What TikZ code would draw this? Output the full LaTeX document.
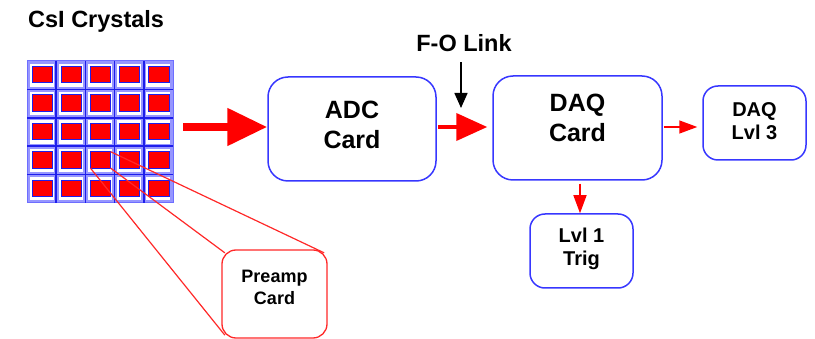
\documentclass[tikz,border=0pt]{standalone}
\usepackage{fontspec}
\setmainfont{Liberation Sans}
\usetikzlibrary{arrows.meta,calc}
\definecolor{bbox}{RGB}{55,55,255}
\definecolor{lblue}{RGB}{150,150,255}
\definecolor{dblue}{RGB}{30,30,235}
\definecolor{rd}{RGB}{255,0,0}
\definecolor{rline}{RGB}{255,40,40}
\definecolor{gridedge}{RGB}{110,110,255}
\begin{document}
\begin{tikzpicture}[x=1pt,y=-1pt,
  bigcard/.style={draw=bbox, line width=1.5pt, rounded corners=20pt, inner sep=0pt},
  smallcard/.style={draw=bbox, line width=1.5pt, rounded corners=15pt, inner sep=0pt, minimum width=103pt, minimum height=74pt},
  precard/.style={draw=rline, line width=1.3pt, rounded corners=14pt, inner sep=0pt, minimum width=105pt, minimum height=88pt},
  bigtext/.style={inner sep=0pt, align=center, font=\bfseries\fontsize{25}{30}\selectfont},
  smalltext/.style={inner sep=0pt, align=center, font=\bfseries\fontsize{20}{23}\selectfont},
  pretext/.style={inner sep=0pt, align=center, font=\bfseries\fontsize{18}{22}\selectfont},
  redcell/.style={fill=rd, draw=dblue, line width=0.8pt},
  feed/.style={draw=rline, line width=1.2pt},
  bigarrow/.style={draw=rd, line width=8pt, -{Triangle[length=40pt,width=36pt]}},
  midarrow/.style={draw=rd, line width=4pt, -{Triangle[length=31pt,width=27pt]}},
  thinarrow/.style={draw=rd, line width=1.5pt, -{Triangle[length=18pt,width=13pt]}},
  blkarrow/.style={draw=black, line width=1.5pt, -{Triangle[length=15pt,width=13pt]}}
]
\useasboundingbox (0,0) rectangle (815,339);

% title
\node[anchor=base west, inner sep=0pt, font=\bfseries\fontsize{23.5}{28}\selectfont] (title) at (28,28) {CsI Crystals};

% crystal grid
\node[minimum width=146pt, minimum height=142pt, inner sep=0pt, outer sep=0pt, fill=lblue, draw=gridedge, line width=1pt] (grid) at (100,132) {};
\foreach \i in {1,...,4} {
  \draw[dblue, line width=1.5pt] (27+\i*29.2,61) -- (27+\i*29.2,203);
  \draw[dblue, line width=1.5pt] (27,61+\i*28.4) -- (173,61+\i*28.4);
}
\foreach \i in {0,...,4} {
  \foreach \j in {0,...,4} {
    \fill[white] (27+\i*29.2+2.6,61+\j*28.4+2.6) rectangle (27+\i*29.2+26.6,61+\j*28.4+25.8);
    \draw[redcell] (27+\i*29.2+5,61+\j*28.4+5.5) rectangle (27+\i*29.2+25.2,61+\j*28.4+21.9);
  }
}
\node[minimum width=20.2pt, minimum height=16.4pt, inner sep=0pt, outer sep=0pt] (src) at (100.5,159.9) {};

% preamp card
\node[precard] (pre) at (274.5,294) {};
\node[pretext] (pret) at (274.5,287.5) {Preamp\\Card};
\draw[feed] (src.north east) -- ($(pre.north east)+(-3.5,3.5)$);
\draw[feed] (src.south east) -- ($(pre.north west)+(3.5,3.5)$);
\draw[feed] (src.south west) -- ($(pre.south west)+(3.5,-3.5)$);

% ADC card
\node[bigcard, minimum width=168pt, minimum height=104pt] (adc) at (352,129) {};
\node[bigtext] (adct) at (352,125) {ADC\\Card};

% DAQ card
\node[bigcard, minimum width=169pt, minimum height=104pt] (daq) at (577.5,128) {};
\node[bigtext] (daqt) at (577.5,118) {DAQ\\Card};

% DAQ Lvl 3
\node[smallcard] (lvl3) at (754.5,123) {};
\node[smalltext] (lvl3t) at (754.5,121.5) {DAQ\\Lvl 3};

% Lvl 1 Trig
\node[smallcard] (lvl1) at (581.5,251) {};
\node[smalltext] (lvl1t) at (581.5,249) {Lvl 1\\Trig};

% F-O link
\node[anchor=base, inner sep=0pt, font=\bfseries\fontsize{23.5}{28}\selectfont] (fo) at (464,52) {F-O Link};
\coordinate (fotip) at (461,108);

% arrows
\draw[bigarrow, shorten <=10pt] ([yshift=2pt]grid.east |- adc.west) -- ([yshift=2pt]adc.west);
\draw[midarrow, shorten <=1pt, shorten >=5pt] ([yshift=2pt]adc.east) -- ([yshift=2pt]adc.east -| daq.west);
\draw[thinarrow, shorten <=1pt, shorten >=5pt] ([yshift=1pt]daq.east) -- ([yshift=1pt]daq.east -| lvl3.west);
\draw[thinarrow, shorten <=3pt] ([xshift=-1.5pt]lvl1.north |- daq.south) -- ([xshift=-1.5pt]lvl1.north);
\draw[blkarrow, shorten <=10pt] (fo.south -| fotip) -- (fotip);
\end{tikzpicture}
\end{document}
